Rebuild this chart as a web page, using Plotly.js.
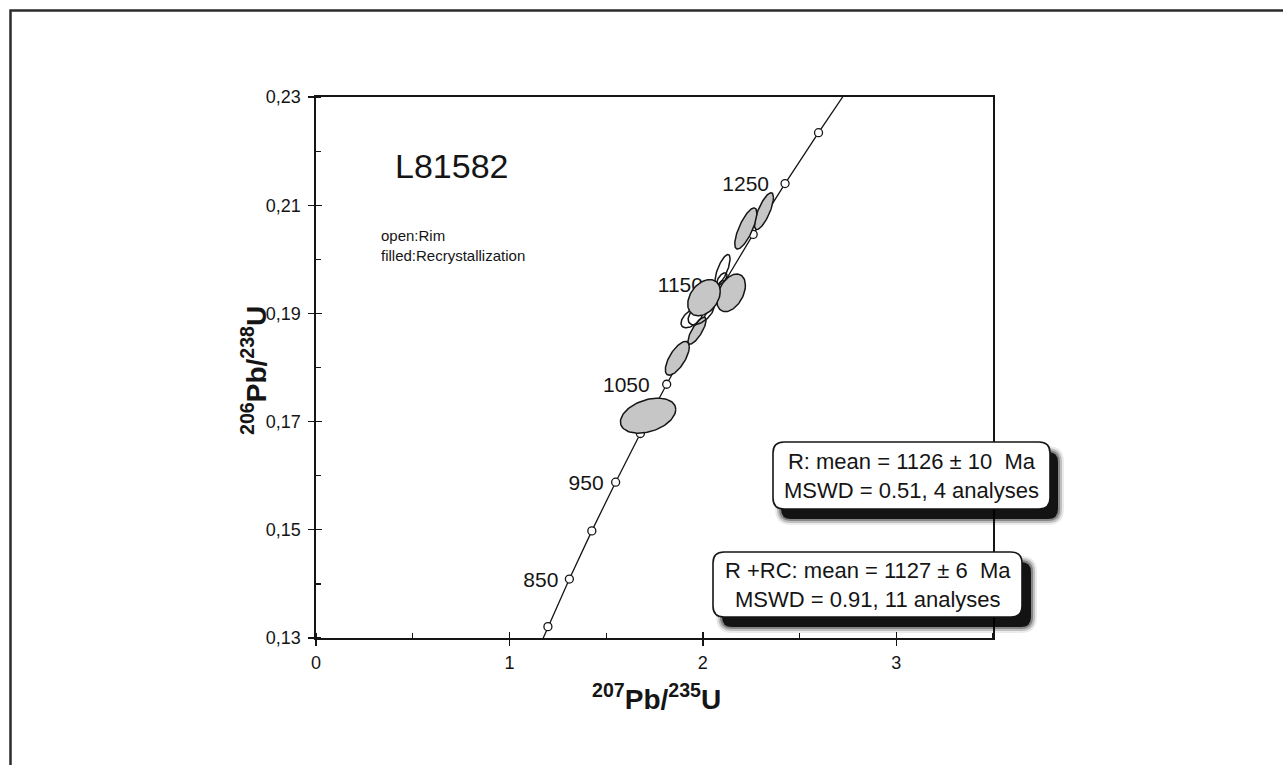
<!DOCTYPE html>
<html><head><meta charset="utf-8">
<script src="https://cdn.plot.ly/plotly-3.0.1.min.js"></script>
<style>html,body{margin:0;padding:0;background:#fff;} #chart{width:1283px;height:765px;}</style>
</head><body><div id="chart"></div>
<script>
// Concordia reference ages (Ma) and their coordinates
const ages   = [800, 850, 900, 950, 1000, 1050, 1100, 1150, 1200, 1250, 1300];
const concX  = [1.199, 1.310, 1.426, 1.549, 1.677, 1.813, 1.955, 2.104, 2.260, 2.425, 2.598];
const concY  = [0.1321, 0.1409, 0.1498, 0.1588, 0.1678, 0.1769, 0.1861, 0.1953, 0.2046, 0.2140, 0.2234];
// concordia curve continues past the axes at both ends
const curveX = [1.093].concat(concX, [2.779]);
const curveY = [0.1234].concat(concY, [0.2330]);
const labeledAges = ['850', '950', '1050', '1150', '1250'];

// Filled ellipses (recrystallization): centre, half-width, half-height, correlation
const fillX   = [1.717, 1.868, 1.970, 2.146, 2.006, 2.316, 2.222];
const fillY   = [0.1711, 0.1817, 0.1868, 0.1938, 0.1929, 0.2089, 0.2057];
const fillSX  = [0.143, 0.062, 0.047, 0.074, 0.084, 0.049, 0.057];
const fillSY  = [0.00324, 0.00312, 0.0025, 0.00348, 0.00335, 0.0034, 0.0038];
const fillRho = [0.35, 0.68, 0.78, 0.4, 0.35, 0.75, 0.75];

// Open ellipses (rim)
const rimX   = [2.102, 2.099, 1.944, 1.991];
const rimY   = [0.1981, 0.1964, 0.1892, 0.1901];
const rimSX  = [0.0388, 0.026, 0.057, 0.067];
const rimSY  = [0.00278, 0.0011, 0.00185, 0.0022];
const rimRho = [0.72, 0.6, 0.55, 0.55];

const sampleName = 'L81582';
const noteText = 'open:Rim<br>filled:Recrystallization';
const box1Text = 'R: mean = 1126 ± 10\u00a0 Ma<br>MSWD = 0.51, 4 analyses';
const box2Text = 'R +RC: mean = 1127 ± 6\u00a0 Ma<br>MSWD = 0.91, 11 analyses';

function ellipse(cx, cy, sx, sy, rho) {
  const xs = [], ys = [], k = Math.sqrt(1 - rho * rho);
  for (let i = 0; i <= 90; i++) {
    const t = 2 * Math.PI * i / 90;
    xs.push(cx + sx * Math.cos(t));
    ys.push(cy + sy * (rho * Math.cos(t) + k * Math.sin(t)));
  }
  return {xs, ys};
}

const FONT = 'Liberation Sans, Arial, Helvetica, sans-serif';
const INK = '#151515';
const L = 316, R = 993, T = 97, B = 638;
const X_RANGE = [0, 3.5], Y_RANGE = [0.13, 0.23];
const pxPerX = (R - L) / (X_RANGE[1] - X_RANGE[0]);
const pxPerY = (B - T) / (Y_RANGE[1] - Y_RANGE[0]);

const traces = [];
traces.push({x: curveX, y: curveY, mode: 'lines', line: {color: INK, width: 1.3}, hoverinfo: 'skip'});
traces.push({x: concX, y: concY, text: ages.map(String), mode: 'markers',
  marker: {size: 8, color: '#fff', line: {color: INK, width: 1.3}}, hoverinfo: 'text'});

// age labels sit left of their concordia markers (drawn under the ellipses)
const labelGapPx = [11, 12, 17, 20, 16];
const labelDropPx = 2.5;
const labIdx = labeledAges.map(a => ages.indexOf(Number(a)));
traces.push({
  x: labIdx.map((idx, i) => concX[idx] - labelGapPx[i] / pxPerX),
  y: labIdx.map(idx => concY[idx] - labelDropPx / pxPerY),
  text: labeledAges, mode: 'text', textposition: 'middle left',
  textfont: {size: 21, color: INK, family: FONT}, hoverinfo: 'skip', cliponaxis: false
});

function addEllipse(cx, cy, sx, sy, rho, filled) {
  const e = ellipse(cx, cy, sx, sy, rho);
  traces.push({x: e.xs, y: e.ys, mode: 'lines', fill: 'toself',
    fillcolor: filled ? '#c6c6c6' : 'rgba(255,255,255,0)',
    line: {color: INK, width: 1.5}, hoverinfo: 'skip'});
}
// draw order: lower filled, open ellipses, then the upper filled ones
for (let i = 0; i < 3; i++) addEllipse(fillX[i], fillY[i], fillSX[i], fillSY[i], fillRho[i], true);
for (let i = 0; i < rimX.length; i++) addEllipse(rimX[i], rimY[i], rimSX[i], rimSY[i], rimRho[i], false);
for (let i = 3; i < fillX.length; i++) addEllipse(fillX[i], fillY[i], fillSX[i], fillSY[i], fillRho[i], true);

// invisible trace to host the overlay axes (crossing tick marks)
traces.push({x: [0], y: [0.13], xaxis: 'x2', yaxis: 'y2', mode: 'markers', marker: {opacity: 0}, hoverinfo: 'skip'});

// pixel -> paper helpers for decorations
const px2x = p => (p - L) / (R - L);
const py2y = p => (B - p) / (B - T);
function roundRect(x0, y0, x1, y1, r) {
  const X = px2x, Y = py2y;
  return `M${X(x0 + r)},${Y(y0)} L${X(x1 - r)},${Y(y0)} Q${X(x1)},${Y(y0)} ${X(x1)},${Y(y0 + r)} ` +
         `L${X(x1)},${Y(y1 - r)} Q${X(x1)},${Y(y1)} ${X(x1 - r)},${Y(y1)} ` +
         `L${X(x0 + r)},${Y(y1)} Q${X(x0)},${Y(y1)} ${X(x0)},${Y(y1 - r)} ` +
         `L${X(x0)},${Y(y0 + r)} Q${X(x0)},${Y(y0)} ${X(x0 + r)},${Y(y0)} Z`;
}
const shapes = [];
// outer frame (left and top edges)
shapes.push({type: 'path', xref: 'paper', yref: 'paper',
  path: `M${px2x(10.5)},${py2y(770)} L${px2x(10.5)},${py2y(10.5)} L${px2x(1290)},${py2y(10.5)}`,
  line: {color: '#2b2b2b', width: 2.5}});
function addBox(x0, y0, x1, y1, dx, dy) {
  const layers = [[0, 0.85], [2, 0.3], [4, 0.18], [6, 0.08]];
  layers.forEach(([g, a]) => {
    shapes.push({type: 'path', xref: 'paper', yref: 'paper', layer: 'above',
      path: roundRect(x0 + dx - g, y0 + dy - g, x1 + dx + g, y1 + dy + g, 10 + g),
      fillcolor: `rgba(0,0,0,${a})`, line: {width: 0}});
  });
  shapes.push({type: 'path', xref: 'paper', yref: 'paper', layer: 'above',
    path: roundRect(x0, y0, x1, y1, 11), fillcolor: '#fff', line: {color: INK, width: 1.6}});
}
addBox(773, 442, 1050, 509, 8, 10);
addBox(713, 552, 1022, 617, 9, 10);

const annotations = [];
annotations.push({x: px2x(393), y: py2y(166), xref: 'paper', yref: 'paper', text: sampleName, showarrow: false,
  xanchor: 'left', yanchor: 'middle', font: {size: 34, color: INK, family: FONT}});
annotations.push({x: px2x(379), y: py2y(245), xref: 'paper', yref: 'paper', text: noteText, showarrow: false,
  xanchor: 'left', yanchor: 'middle', align: 'left', font: {size: 15, color: INK, family: FONT}});
annotations.push({x: px2x(911.5), y: py2y(476), xref: 'paper', yref: 'paper', text: box1Text, showarrow: false,
  xanchor: 'center', yanchor: 'middle', align: 'center', font: {size: 22, color: INK, family: FONT}});
annotations.push({x: px2x(867.5), y: py2y(585), xref: 'paper', yref: 'paper', text: box2Text, showarrow: false,
  xanchor: 'center', yanchor: 'middle', align: 'center', font: {size: 22, color: INK, family: FONT}});
// axis titles
annotations.push({x: px2x(656), y: py2y(697), xref: 'paper', yref: 'paper',
  text: '<b><sup>207</sup>Pb/<sup>235</sup>U</b>', showarrow: false, xanchor: 'center', yanchor: 'middle',
  font: {size: 28, color: INK, family: FONT}});
annotations.push({x: px2x(254), y: py2y(371), xref: 'paper', yref: 'paper', textangle: -90,
  text: '<b><sup>206</sup>Pb/<sup>238</sup>U</b>', showarrow: false, xanchor: 'center', yanchor: 'middle',
  font: {size: 28, color: INK, family: FONT}});

const axisCommon = {showgrid: false, zeroline: false, fixedrange: true, tickcolor: INK, tickwidth: 1.3};
const layout = {
  width: 1283, height: 765,
  margin: {l: L, r: 1283 - R, t: T, b: 765 - B, pad: 0},
  paper_bgcolor: '#fff', plot_bgcolor: '#fff',
  showlegend: false, separators: ',.',
  font: {family: FONT, color: INK},
  xaxis: Object.assign({}, axisCommon, {range: X_RANGE, tick0: 0, dtick: 1, ticks: 'outside', ticklen: 6,
    showline: true, mirror: true, linecolor: INK, linewidth: 1.6, tickfont: {size: 18, color: INK},
    ticklabelstandoff: 2,
    minor: {dtick: 0.5, ticks: 'inside', ticklen: 5, tickcolor: INK, tickwidth: 1.2, showgrid: false}}),
  yaxis: Object.assign({}, axisCommon, {range: Y_RANGE, tick0: 0.13, dtick: 0.02, tickformat: '.2f',
    ticks: 'outside', ticklen: 6, ticklabelstandoff: 4,
    showline: true, mirror: true, linecolor: INK, linewidth: 1.6, tickfont: {size: 18, color: INK},
    minor: {dtick: 0.01, ticks: 'inside', ticklen: 5, tickcolor: INK, tickwidth: 1.2, showgrid: false}}),
  xaxis2: Object.assign({}, axisCommon, {overlaying: 'x', anchor: 'y2', side: 'bottom', range: X_RANGE,
    tick0: 0, dtick: 1, ticks: 'inside', ticklen: 6, showticklabels: false, showline: false}),
  yaxis2: Object.assign({}, axisCommon, {overlaying: 'y', anchor: 'x2', side: 'left', range: Y_RANGE,
    tick0: 0.13, dtick: 0.02, ticks: 'inside', ticklen: 6, showticklabels: false, showline: false}),
  shapes: shapes,
  annotations: annotations
};
Plotly.newPlot('chart', traces, layout, {displayModeBar: false, staticPlot: true});
</script></body></html>
